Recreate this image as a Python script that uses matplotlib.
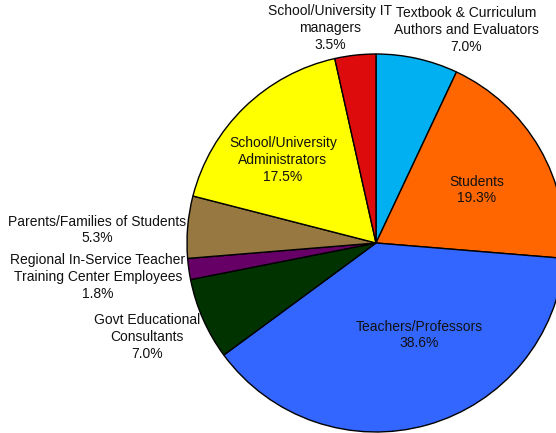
import matplotlib.pyplot as plt

plt.rcParams['font.family'] = ['Liberation Sans', 'DejaVu Sans']

# categories, clockwise from 12 o'clock
labels = ['Textbook & Curriculum\nAuthors and Evaluators', 'Students', 'Teachers/Professors',
          'Govt Educational\nConsultants', 'Regional In-Service Teacher\nTraining Center Employees',
          'Parents/Families of Students', 'School/University\nAdministrators',
          'School/University IT\nmanagers']
shares = [7.0, 19.3, 38.6, 7.0, 1.8, 5.3, 17.5, 3.5]
colors = ['#00B0F0', '#FF6600', '#3366FF', '#003300', '#660066', '#967840', '#FFFF00', '#DD0B0B']

# label centres (pixel coords, y downward)
label_pos = [(466, 30), (477, 190), (419, 335), (147, 337), (98, 277), (97, 230), (283, 160), (330, 28)]

W, H = 556, 433
fig = plt.figure(figsize=(W / 100, H / 100), dpi=100)
ax = fig.add_axes([0, 0, 1, 1])

ax.pie(shares, colors=colors, startangle=90, counterclock=False,
       center=(376, H - 243), radius=189,
       wedgeprops=dict(edgecolor='black', linewidth=1))

for lab, val, (x, y) in zip(labels, shares, label_pos):
    ax.text(x, H - y, f'{lab}\n{val:.1f}%', ha='center', va='center',
            fontsize=10, linespacing=1.24, color='#111111')

ax.set_xlim(0, W)
ax.set_ylim(0, H)
ax.axis('off')

plt.savefig('out.png', dpi=100, facecolor='white')
